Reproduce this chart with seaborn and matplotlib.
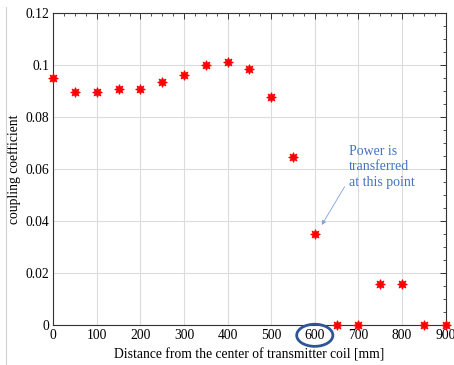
import numpy as np
import pandas as pd
import matplotlib
matplotlib.use("Agg")
import matplotlib.pyplot as plt
from matplotlib.patches import Ellipse
from matplotlib.ticker import MultipleLocator
import seaborn as sns

distance_mm = [0, 50, 100, 150, 200, 250, 300, 350, 400, 450,
               500, 550, 600, 650, 700, 750, 800, 850, 900]
coupling = [0.095, 0.0896, 0.0896, 0.0909, 0.0909, 0.0937, 0.0964, 0.100, 0.1012, 0.0985,
            0.0877, 0.0649, 0.0351, 0.0, 0.0, 0.0159, 0.0159, 0.0, 0.0]
x_ticks = [0, 100, 200, 300, 400, 500, 600, 700, 800, 900]
y_ticks = [0, 0.02, 0.04, 0.06, 0.08, 0.1, 0.12]
y_tick_labels = ["0", "0.02", "0.04", "0.06", "0.08", "0.1", "0.12"]

sns.set_theme(style="white")
plt.rcParams['font.family'] = ['Liberation Serif', 'DejaVu Serif']
plt.rcParams['xtick.direction'] = 'in'
plt.rcParams['ytick.direction'] = 'in'

df = pd.DataFrame({"d": distance_mm, "k": coupling})

fig = plt.figure(figsize=(4.54, 3.65), dpi=100)
ax = fig.add_axes([0.1174, 0.1088, 0.9813 - 0.1174, 0.9636 - 0.1088])

sns.scatterplot(data=df, x="d", y="k", ax=ax, marker=(8, 1, 0), s=45,
                color="#ff0000", edgecolor="#ff0000", linewidth=0.8, zorder=5,
                clip_on=False, legend=False)

ax.set_xlim(0, 900)
ax.set_ylim(0, 0.12)
ax.set_xticks(x_ticks)
ax.set_xticklabels([str(t) for t in x_ticks])
ax.set_yticks(y_ticks)
ax.set_yticklabels(y_tick_labels)
ax.xaxis.set_minor_locator(MultipleLocator(25))
ax.yaxis.set_minor_locator(MultipleLocator(0.005))
ax.tick_params(which='major', length=4, width=0.7, color='#333333', labelsize=9.8,
               top=True, right=True, pad=3, labelcolor='black')
ax.tick_params(which='minor', length=2, width=0.6, color='#333333', top=True, right=True)
ax.grid(True, which='major', color='#dcdcdc', linewidth=0.8)
ax.set_axisbelow(True)
for sp in ax.spines.values():
    sp.set_color('#333333')
    sp.set_linewidth(0.8)

ax.set_xlabel("Distance from the center of transmitter coil [mm]", fontsize=9.8, labelpad=4.5, color='black')
ax.set_ylabel("coupling coefficient", fontsize=9.8, labelpad=3, color='black')

ax.annotate("Power is\ntransferred\nat this point", xy=(616, 0.0386), xytext=(679, 0.0609),
            fontsize=10, color='#4472c4', ha='left', va='center', linespacing=1.25,
            arrowprops=dict(arrowstyle='-|>', color='#7f9fdc', lw=0.6, mutation_scale=6,
                            shrinkA=0, shrinkB=0, relpos=(-0.07, 0.05)))

ell = Ellipse((600, -0.00385), width=83, height=0.0085, fill=False, edgecolor='#2f5597',
              linewidth=2, clip_on=False, zorder=10)
ax.add_patch(ell)

fig.add_artist(plt.Line2D([6/454, 6/454], [0, 0.98], color='#d0d0d0', linewidth=0.8))

fig.savefig("out.png", dpi=100)
